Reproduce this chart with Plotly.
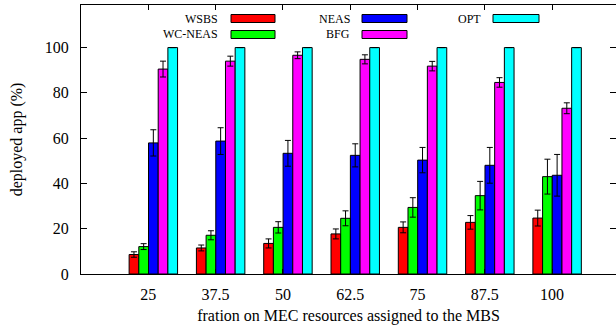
import plotly.graph_objects as go

categories = ["25", "37.5", "50", "62.5", "75", "87.5", "100"]
series_names = ["WSBS", "WC-NEAS", "NEAS", "BFG", "OPT"]
wsbs = [8.6, 11.5, 13.5, 17.7, 20.6, 22.8, 24.7]
wsbs_err = [1.2, 1.3, 2.0, 2.2, 2.4, 3.0, 3.5]
wcneas = [12.1, 17.1, 20.6, 24.6, 29.4, 34.6, 43.0]
wcneas_err = [1.3, 2.0, 2.5, 3.3, 4.3, 6.3, 7.7]
neas = [57.9, 58.7, 53.3, 52.4, 50.3, 48.0, 43.6]
neas_err = [5.8, 5.9, 5.7, 5.1, 5.6, 7.9, 9.2]
bfg = [90.5, 94.0, 96.6, 94.8, 91.8, 84.6, 73.2]
bfg_err = [3.5, 2.2, 1.5, 2.0, 2.1, 2.1, 2.4]
opt = [100, 100, 100, 100, 100, 100, 100]
opt_err = [0, 0, 0, 0, 0, 0, 0]
y_ticks = [0, 20, 40, 60, 80, 100]

values = [wsbs, wcneas, neas, bfg, opt]
errors = [wsbs_err, wcneas_err, neas_err, bfg_err, opt_err]
colors = ["#ff0000", "#00ff00", "#0000ff", "#ff00ff", "#00ffff"]

W, H = 616, 325
L, R, T, B = 81, 0, 5, 51
pw, ph = W - L - R, H - T - B

xpos = list(range(len(categories)))

fig = go.Figure()
for name, v, e, c in zip(series_names, values, errors, colors):
    fig.add_trace(go.Bar(
        x=xpos, y=v, name=name,
        marker=dict(color=c, line=dict(color="black", width=1)),
        error_y=dict(type="data", array=e, visible=True, color="black",
                     thickness=1, width=3),
        showlegend=False,
    ))

font = "'Liberation Serif', 'Times New Roman', serif"

# custom gnuplot-style legend (text then colour sample)
legend_layout = [  # (text right px, row y px, sample x0, sample x1)
    (220, 18.5, 231, 275),
    (220, 34.5, 231, 275),
    (352, 18.5, 362, 407),
    (352, 34.5, 362, 407),
    (483, 18.5, 493, 539),
]
def px(x):
    return (x - L) / pw
def py(y):
    return (H - B - y) / ph

shapes = []
annotations = []
for name, c, (tx, ty, sx0, sx1) in zip(series_names, colors, legend_layout):
    annotations.append(dict(x=px(tx), y=py(ty), xref="paper", yref="paper",
                            text=name, showarrow=False, xanchor="right",
                            yanchor="middle", font=dict(family=font, size=12, color="black")))
    shapes.append(dict(type="rect", xref="paper", yref="paper",
                       x0=px(sx0), x1=px(sx1), y0=py(ty + 4), y1=py(ty - 4),
                       fillcolor=c, line=dict(color="black", width=1)))

tick_shift = 0.075
fig.update_layout(
    width=W, height=H,
    margin=dict(l=L, r=R, t=T, b=B, pad=0),
    paper_bgcolor="white", plot_bgcolor="white",
    barmode="group", bargap=0.28, bargroupgap=0,
    font=dict(family=font, size=16, color="black"),
    shapes=shapes, annotations=annotations,
    xaxis=dict(
        range=[-1 - tick_shift, 6.875],
        tickvals=[i - tick_shift for i in xpos], ticktext=categories,
        ticks="inside", ticklen=5, tickcolor="black",
        showline=True, linecolor="black", linewidth=1, mirror="allticks",
        showgrid=False, zeroline=False,
        ticklabelstandoff=6,
        title=dict(text="fration on MEC resources assigned to the MBS",
                   font=dict(size=16), standoff=7),
    ),
    yaxis=dict(
        range=[0, 118.8], tickvals=y_ticks,
        ticks="inside", ticklen=6, tickcolor="black",
        showline=True, linecolor="black", linewidth=1, mirror="allticks",
        showgrid=False, zeroline=False,
        ticklabelstandoff=8,
        title=dict(text="deployed app (%)", font=dict(size=16), standoff=18),
    ),
)

fig.write_html("out.html", config={"displayModeBar": False},
               post_script="document.body.style.margin='0';")
